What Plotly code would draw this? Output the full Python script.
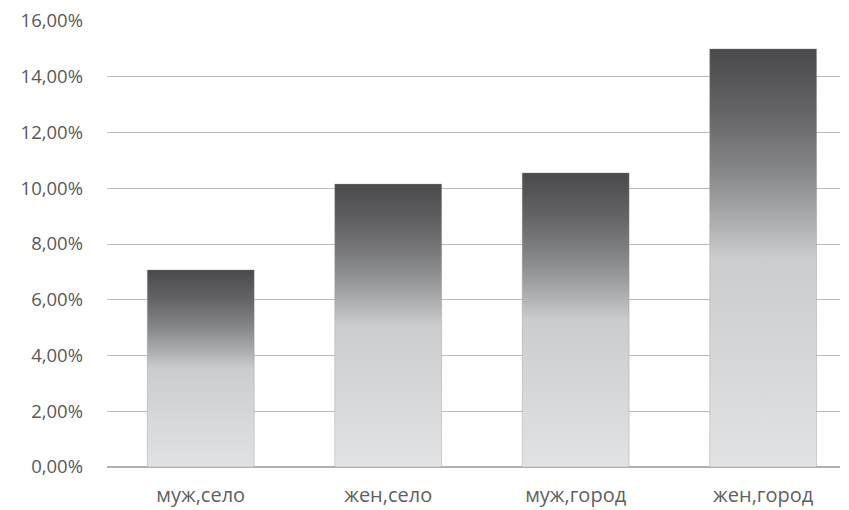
import plotly.graph_objects as go

# Share of respondents by sex and settlement type
categories = ["муж,село", "жен,село", "муж,город", "жен,город"]
shares = [0.0707, 0.1015, 0.1055, 0.150]
y_ticks = [0, 0.02, 0.04, 0.06, 0.08, 0.10, 0.12, 0.14, 0.16]

BAR_WIDTH = 0.57
gradient = [
    [0.0, "#e1e2e4"],
    [0.50, "#cbccce"],
    [0.57, "#b2b3b5"],
    [0.70, "#88898b"],
    [0.85, "#646466"],
    [1.0, "#4a4a4c"],
]

fig = go.Figure()
for i, v in enumerate(shares):
    x0, x1 = i - BAR_WIDTH / 2, i + BAR_WIDTH / 2
    fig.add_trace(go.Scatter(
        x=[x0, x0, x1, x1, x0],
        y=[0, v, v, 0, 0],
        mode="lines",
        fill="toself",
        line=dict(color="rgba(140,140,140,0.35)", width=1),
        fillgradient=dict(type="vertical", colorscale=gradient, start=0, stop=v),
        hoverinfo="skip",
        showlegend=False,
    ))

fig.update_layout(
    width=849, height=510,
    margin=dict(l=107, r=9, t=21, b=43),
    paper_bgcolor="white", plot_bgcolor="white",
    separators=", ",
    font=dict(family="Open Sans", size=18, color="#595959"),
    showlegend=False,
)
fig.update_xaxes(
    range=[-0.5, 3.41],
    tickvals=list(range(len(categories))),
    ticktext=categories,
    showgrid=False, zeroline=False,
    showline=False, automargin=False,
    ticks="", ticklabelstandoff=14,
    tickfont=dict(size=20, color="#5f5f5f"),
)
fig.update_yaxes(
    range=[0, 0.16],
    tickvals=y_ticks,
    tickformat=".2%",
    showgrid=True, gridcolor="#bdbdbd", gridwidth=1.3,
    zeroline=True, zerolinecolor="#b0b0b0", zerolinewidth=2,
    showline=False, ticks="", automargin=False,
    ticklabelstandoff=23,
    tickfont=dict(size=18.5, color="#595959"),
)

fig.write_html("out.html")
